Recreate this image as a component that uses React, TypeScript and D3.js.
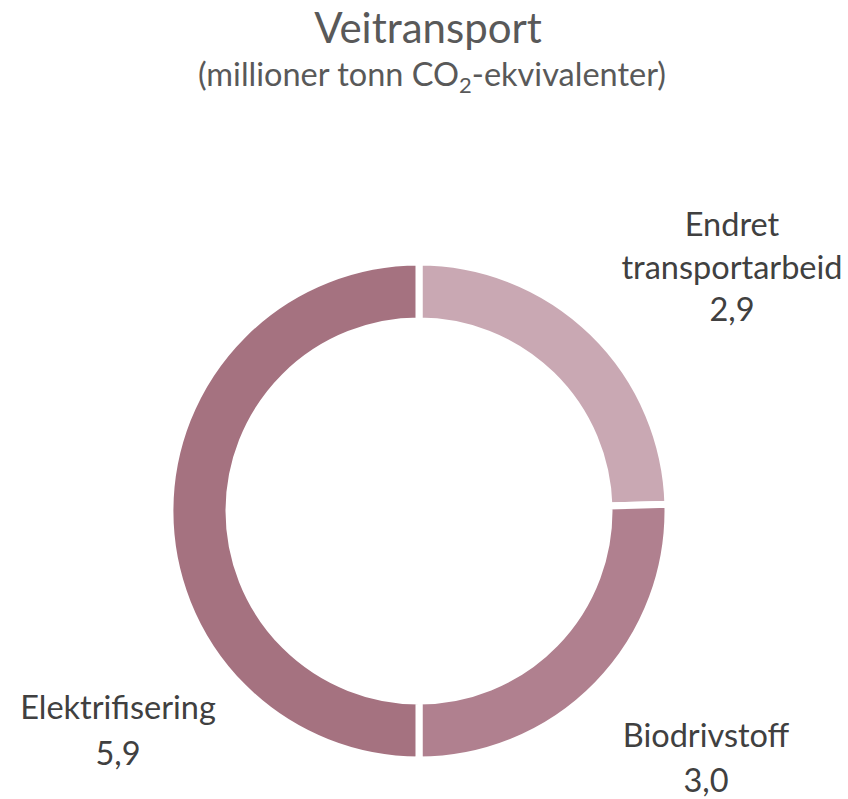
import React from "react";
import * as d3 from "d3";

const categories = ["Endret transportarbeid", "Biodrivstoff", "Elektrifisering"];
const values = [2.9, 3.0, 5.9];
const valueLabels = ["2,9", "3,0", "5,9"];
const colors = ["#C9A8B3", "#B0808F", "#A57280"];

const W = 848;
const H = 799;
const cx = 419;
const cy = 511;
const outerR = 249;
const innerR = 190;

const FONT = "Lato, 'Open Sans', sans-serif";

export default function App() {
  const pie = d3.pie<number>().sort(null).value((d) => d)(values);
  const arc = d3.arc<d3.PieArcDatum<number>>().innerRadius(innerR).outerRadius(outerR);

  const labelPos = [
    { x: 732, lines: ["Endret", "transportarbeid", valueLabels[0]], ys: [236, 279, 321] },
    { x: 706, lines: ["Biodrivstoff", valueLabels[1]], ys: [747, 792] },
    { x: 118, lines: ["Elektrifisering", valueLabels[2]], ys: [719, 765] },
  ];

  return (
    <svg width={W} height={H} style={{ position: "absolute", left: 0, top: 0, background: "#fff" }}>
      <text x={428} y={43} textAnchor="middle" fontFamily={FONT} fontSize={42} fill="#595959">
        Veitransport
      </text>
      <text x={432} y={86} textAnchor="middle" fontFamily={FONT} fontSize={32.5} fill="#595959">
        (millioner tonn CO
        <tspan fontSize={22} dy={7}>2</tspan>
        <tspan dy={-7}>-ekvivalenter)</tspan>
      </text>
      <g transform={`translate(${cx},${cy})`}>
        {pie.map((p, i) => (
          <path key={categories[i]} d={arc(p) || ""} fill={colors[i]} stroke="#fff" strokeWidth={7} />
        ))}
      </g>
      {labelPos.map((l, i) => (
        <g key={i}>
          {l.lines.map((t, j) => (
            <text key={j} x={l.x} y={l.ys[j]} textAnchor="middle" fontFamily={FONT} fontSize={32.5} fill="#404040">
              {t}
            </text>
          ))}
        </g>
      ))}
    </svg>
  );
}
